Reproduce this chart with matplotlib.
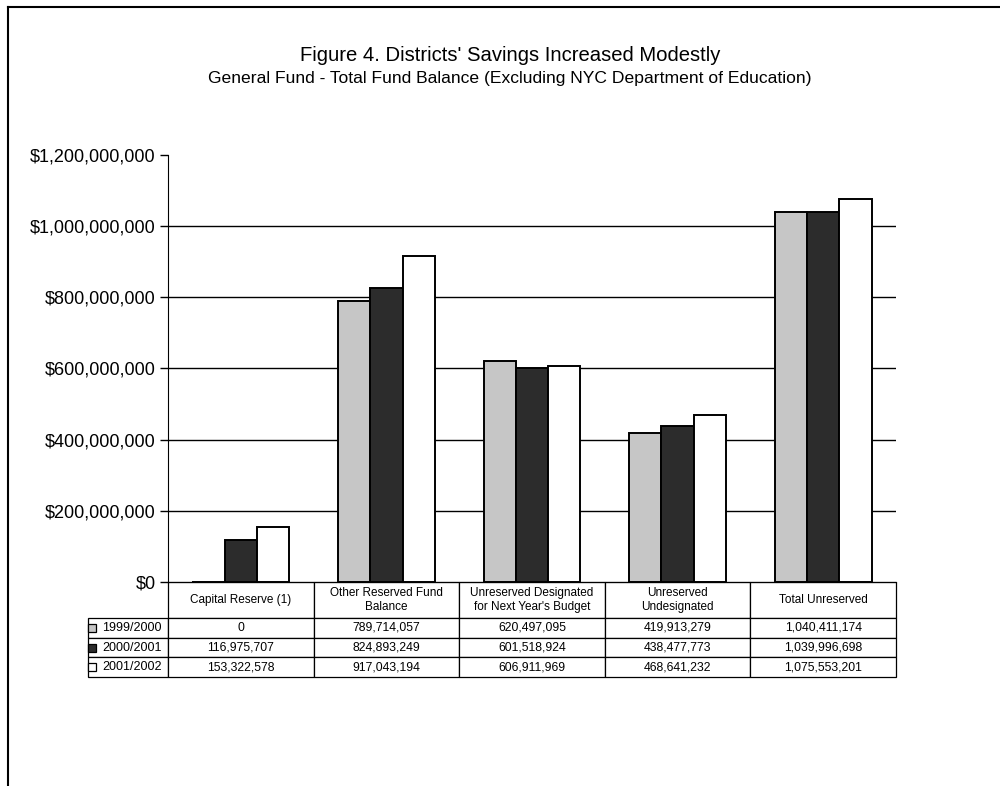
import matplotlib.pyplot as plt
import numpy as np
from matplotlib.lines import Line2D
from matplotlib.patches import Rectangle
from matplotlib.ticker import FuncFormatter

plt.rcParams["font.family"] = ["Liberation Sans", "DejaVu Sans"]

categories = [
    "Capital Reserve (1)",
    "Other Reserved Fund\nBalance",
    "Unreserved Designated\nfor Next Year's Budget",
    "Unreserved\nUndesignated",
    "Total Unreserved",
]
years = ["1999/2000", "2000/2001", "2001/2002"]
fy2000 = [0, 789714057, 620497095, 419913279, 1040411174]
fy2001 = [116975707, 824893249, 601518924, 438477773, 1039996698]
fy2002 = [153322578, 917043194, 606911969, 468641232, 1075553201]
yticks = [0, 200e6, 400e6, 600e6, 800e6, 1000e6, 1200e6]

series = [fy2000, fy2001, fy2002]
colors = ["#c6c6c6", "#2c2c2c", "#ffffff"]

fig = plt.figure(figsize=(10, 7.86), dpi=100)
ax = fig.add_axes([0.168, 0.2595, 0.728, 0.5435])

x = np.arange(len(categories))
w = 0.222
for k, (vals, col) in enumerate(zip(series, colors)):
    ax.bar(x + (k - 1) * w, vals, width=w, color=col,
           edgecolor="black", linewidth=1.4, zorder=3)

ax.set_xlim(-0.5, len(categories) - 0.5)
ax.set_ylim(0, 1.2e9)
ax.set_yticks(yticks)
ax.yaxis.set_major_formatter(FuncFormatter(lambda v, _: f"${v:,.0f}"))
ax.tick_params(axis="y", direction="out", length=6, width=1,
               labelsize=13, pad=3)
ax.set_xticks([])
ax.grid(axis="y", color="black", linewidth=1)
ax.set_axisbelow(True)
ax.yaxis.get_gridlines()[-1].set_visible(False)
ax.yaxis.get_gridlines()[0].set_visible(False)
for side in ("top", "right"):
    ax.spines[side].set_visible(False)

# data table under the plot
tbl_h = 95 / 427
cell_text = [[f"{v:,}" for v in vals] for vals in series]
tbl = ax.table(cellText=cell_text, rowLabels=years, colLabels=categories,
               cellLoc="center", rowLoc="left",
               bbox=[0, -tbl_h, 1, tbl_h])
tbl.auto_set_font_size(False)
header_h, row_h = 36, 19.7
label_w = 83 / 728
for (r, c), cell in tbl.get_celld().items():
    cell.set_linewidth(0.9)
    cell.set_edgecolor("black")
    cell.set_height(header_h if r == 0 else row_h)
    if c == -1:
        cell.set_width(label_w)
        cell.PAD = 14 / 83
        cell.get_text().set_fontsize(9)
    else:
        cell.set_width(0.2)
        cell.get_text().set_fontsize(8.5 if r == 0 else 8.8)

# legend keys in the row labels
key_w, key_h = 8 / 728, 8 / 427
total_h = header_h + 3 * row_h
for k, col in enumerate(colors):
    yc = -tbl_h * (header_h + (k + 0.5) * row_h) / total_h
    ax.add_patch(Rectangle((-label_w + 3 / 728, yc - key_h / 2), key_w, key_h,
                           transform=ax.transAxes, facecolor=col,
                           edgecolor="black", linewidth=0.9, clip_on=False,
                           zorder=5))

fig.text(0.51, 0.929, "Figure 4. Districts' Savings Increased Modestly",
         ha="center", va="center", fontsize=14.6)
fig.text(0.51, 0.9, "General Fund - Total Fund Balance (Excluding NYC Department of Education)",
         ha="center", va="center", fontsize=12.6)

# page frame, left and top edges
fig.add_artist(Line2D([0.008, 0.008], [0.0, 0.991], color="black", linewidth=1.5))
fig.add_artist(Line2D([0.008, 1.0], [0.991, 0.991], color="black", linewidth=1.5))

fig.savefig("out.png", dpi=100)
